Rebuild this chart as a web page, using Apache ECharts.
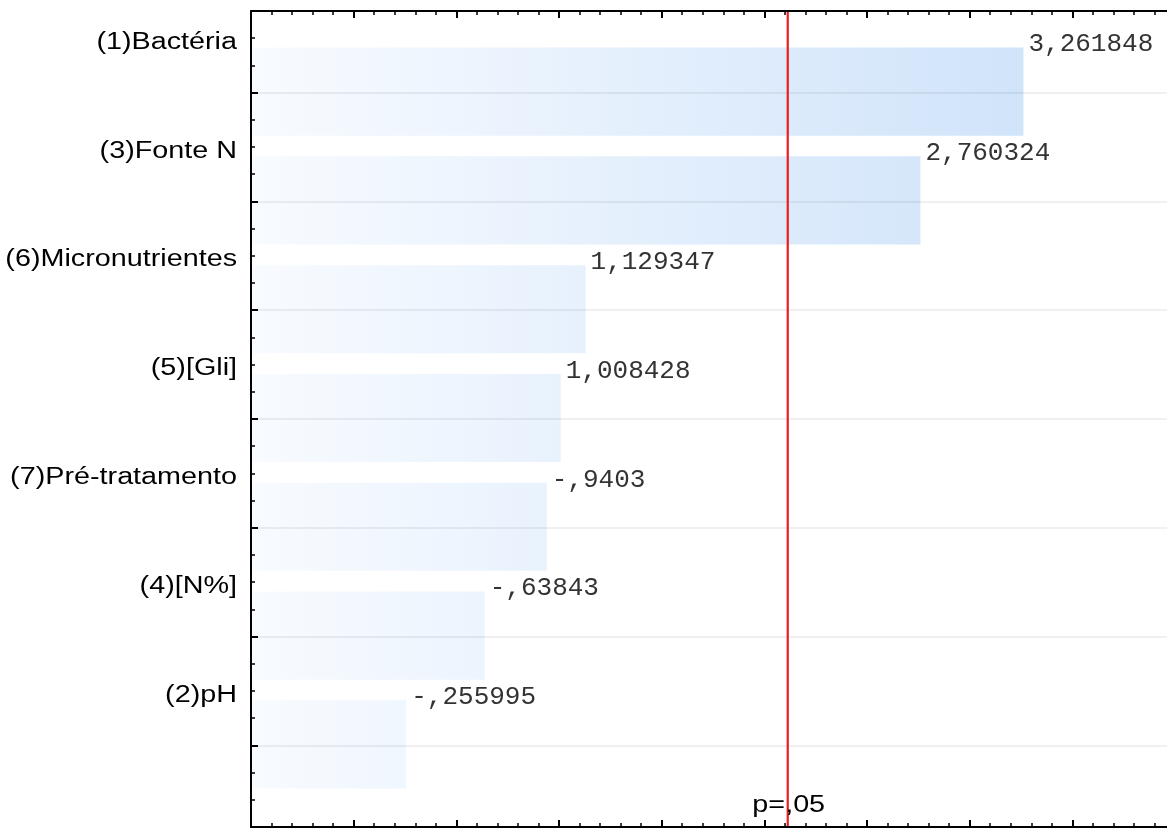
<!DOCTYPE html>
<html>
<head>
<meta charset="utf-8">
<script src="https://cdn.jsdelivr.net/npm/echarts@6/dist/echarts.min.js"></script>
<style>
  html, body { margin: 0; padding: 0; background: #ffffff; }
  #chart { width: 1167px; height: 829px; }
</style>
</head>
<body>
<div id="chart"></div>
<script>
// Pareto chart of standardized effects
const categories = ['(1)Bactéria', '(3)Fonte N', '(6)Micronutrientes', '(5)[Gli]', '(7)Pré-tratamento', '(4)[N%]', '(2)pH'];
const effects = [3.261848, 2.760324, 1.129347, 1.008428, -0.9403, -0.63843, -0.255995];
const pLabel = 'p=,05';
const criticalValue = 2.114;

// Axis extents
const X_MIN = -0.5, X_MAX = 4, X_STEP = 0.5;
const Y_MIN = 0.25, Y_MAX = 7.75, Y_STEP = 0.25;

// Layout (the plot runs a little past the right edge of the canvas)
const GRID_LEFT = 251, GRID_WIDTH = 924, GRID_TOP = 11, GRID_BOTTOM = 2;
const PLOT_H = 829 - GRID_TOP - GRID_BOTTOM;
const UNIT_H = PLOT_H / (Y_MAX - Y_MIN);
const ROW_PAD = (1 - Y_MIN) * UNIT_H;

const SANS = '"Liberation Sans", Arial, sans-serif';
const MONO = '"Liberation Mono", "Courier New", monospace';
const TEXT_STRETCH = 1.25;

// Decimal comma, leading zero dropped: -0.9403 -> "-,9403"
function formatEffect(v) {
  return String(v).replace('.', ',').replace(/^(-?)0,/, '$1,');
}

const chart = echarts.init(document.getElementById('chart'), null, { renderer: 'canvas' });

function frameAxis(extra) {
  return Object.assign({
    min: X_MIN, max: X_MAX, interval: X_STEP,
    type: 'value', z: 5,
    axisLine: { show: true, onZero: false, lineStyle: { color: '#000', width: 2 } },
    axisTick: { show: true, inside: true, length: 7, lineStyle: { color: '#000', width: 2 } },
    minorTick: { show: true, splitNumber: 5, length: 4, lineStyle: { color: '#000', width: 1.5 } },
    axisLabel: { show: false },
    splitLine: { show: false },
    minorSplitLine: { show: false }
  }, extra);
}

function renderBar(params, api) {
  const mag = api.value(0);
  const row = api.value(1);
  const idx = api.value(2);
  const start = api.coord([X_MIN, row]);
  const end = api.coord([mag, row]);
  const plotL = start[0];
  const plotR = api.coord([X_MAX, row])[0];
  const h = api.size([0, 1])[1] * 0.81;
  const top = start[1] - h / 2 - 1;
  return {
    type: 'group',
    children: [
      {
        type: 'rect',
        shape: { x: start[0], y: top, width: end[0] - start[0], height: h },
        style: {
          fill: new echarts.graphic.LinearGradient(plotL, 0, plotR, 0, [
            { offset: 0, color: '#f8fbff' },
            { offset: 1, color: '#c8dff9' }
          ], true)
        }
      },
      {
        type: 'text',
        x: start[0] - 14,
        y: top - 5,
        scaleX: TEXT_STRETCH,
        style: {
          text: categories[idx],
          fill: '#000',
          font: '23px ' + SANS,
          align: 'right', textAlign: 'right',
          verticalAlign: 'middle', textVerticalAlign: 'middle'
        }
      },
      {
        type: 'text',
        x: end[0] + 5,
        y: top - 3,
        style: {
          text: formatEffect(effects[idx]),
          fill: '#333',
          font: '26px ' + MONO,
          align: 'left', textAlign: 'left',
          verticalAlign: 'middle', textVerticalAlign: 'middle'
        }
      }
    ]
  };
}

function renderCritical(params, api) {
  const v = api.value(0);
  const a = api.coord([v, Y_MIN]);
  const b = api.coord([v, Y_MAX]);
  return {
    type: 'group',
    children: [
      {
        type: 'line',
        shape: { x1: a[0], y1: a[1], x2: b[0], y2: b[1] },
        style: { stroke: '#ee1c1c', lineWidth: 2.2 }
      },
      {
        type: 'text',
        x: b[0] + 1,
        y: b[1] - 21,
        scaleX: TEXT_STRETCH,
        style: {
          text: pLabel,
          fill: '#000',
          font: '23px ' + SANS,
          align: 'center', textAlign: 'center',
          verticalAlign: 'middle', textVerticalAlign: 'middle'
        }
      }
    ]
  };
}

const gridBase = { left: GRID_LEFT, width: GRID_WIDTH, outerBoundsMode: 'none', containLabel: false };

const option = {
  animation: false,
  backgroundColor: '#ffffff',
  grid: [
    Object.assign({ top: GRID_TOP, bottom: GRID_BOTTOM }, gridBase),
    Object.assign({ top: GRID_TOP + ROW_PAD, bottom: GRID_BOTTOM + ROW_PAD }, gridBase)
  ],
  xAxis: [
    frameAxis({ gridIndex: 0, position: 'bottom' }),
    frameAxis({ gridIndex: 0, position: 'top' }),
    { gridIndex: 1, type: 'value', min: X_MIN, max: X_MAX, show: false }
  ],
  yAxis: [
    {
      gridIndex: 0, type: 'value', inverse: true, z: 5,
      min: Y_MIN, max: Y_MAX, interval: Y_STEP, position: 'left',
      axisLine: { show: true, onZero: false, lineStyle: { color: '#000', width: 2 } },
      axisTick: { show: true, inside: true, length: 4, lineStyle: { color: '#000', width: 1.5 } },
      axisLabel: { show: false },
      splitLine: { show: false }
    },
    {
      gridIndex: 1, type: 'value', inverse: true, z: 3,
      min: 1, max: categories.length, interval: 1, position: 'left',
      axisLine: { show: false, onZero: false },
      axisTick: { show: true, inside: true, length: 7, lineStyle: { color: '#000', width: 2 } },
      axisLabel: { show: false },
      splitLine: { show: true, lineStyle: { color: 'rgba(0,0,0,0.08)', width: 1.5 } }
    }
  ],
  series: [
    {
      type: 'custom',
      xAxisIndex: 0, yAxisIndex: 0,
      z: 2, clip: false, silent: true,
      encode: { x: 0, y: 1 },
      data: effects.map((e, i) => [Math.abs(e), i + 1, i]),
      renderItem: renderBar
    },
    {
      type: 'custom',
      xAxisIndex: 0, yAxisIndex: 0,
      z: 4, clip: false, silent: true,
      encode: { x: 0, y: 1 },
      data: [[criticalValue, Y_MAX]],
      renderItem: renderCritical
    }
  ]
};

chart.setOption(option);
</script>
</body>
</html>
